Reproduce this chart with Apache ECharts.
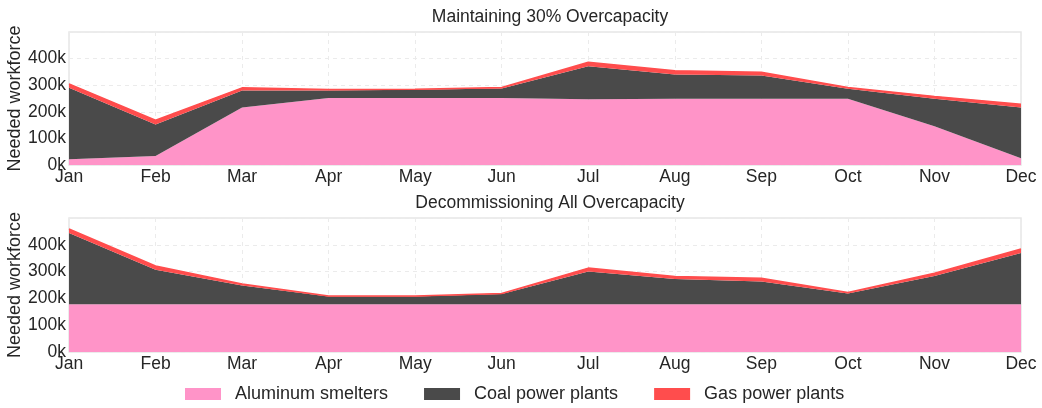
<!DOCTYPE html>
<html>
<head>
<meta charset="utf-8">
<script src="https://cdn.jsdelivr.net/npm/echarts@6/dist/echarts.min.js"></script>
<style>
  html, body { margin: 0; padding: 0; background: #fff; }
  #main { width: 1042px; height: 408px; }
</style>
</head>
<body>
<div id="main"></div>
<script>
// months on x axis
const months = ['Jan', 'Feb', 'Mar', 'Apr', 'May', 'Jun', 'Jul', 'Aug', 'Sep', 'Oct', 'Nov', 'Dec']

// Maintaining 30% Overcapacity (thousands of workers)
const keepAluminum = [22, 34, 216, 252, 252, 252, 247, 249, 249, 249, 146, 25]
const keepCoal = [268, 118, 64, 28, 31, 36, 124, 91, 87, 38, 103, 191]
const keepGas = [15, 16, 10, 4, 2, 3, 15, 14, 13, 4, 9, 12]

// Decommissioning All Overcapacity
const decomAluminum = [178, 178, 178, 178, 178, 178, 178, 178, 178, 178, 178, 178]
const decomCoal = [266, 129, 70, 29, 29, 38, 122, 94, 85, 40, 106, 191]
const decomGas = [15, 14, 6, 2, 2, 2, 13, 10, 12, 4, 10, 15]

const colors = {
  'Aluminum smelters': '#ff94c8',
  'Coal power plants': '#4a4a4a',
  'Gas power plants': '#ff4d4d'
}
const textColor = '#262626'
const fontFamily = '"Liberation Sans", Arial, sans-serif'

var chart = echarts.init(document.getElementById('main'))

function xAxisFor(idx) {
  return {
    type: 'category',
    gridIndex: idx,
    data: months,
    boundaryGap: false,
    axisLine: { show: false },
    axisTick: { show: false },
    axisLabel: { color: textColor, fontSize: 17.5, fontFamily: fontFamily, margin: 3 },
    splitLine: { show: true, lineStyle: { color: '#ebebeb', type: [4, 4], width: 1 } }
  }
}

function yAxisFor(idx) {
  return {
    type: 'value',
    gridIndex: idx,
    min: 0,
    max: 500,
    interval: 100,
    name: 'Needed workforce',
    nameLocation: 'middle',
    nameGap: 45,
    nameMoveOverlap: false,
    nameTextStyle: { color: textColor, fontSize: 18, fontFamily: fontFamily },
    axisLine: { show: false },
    axisTick: { show: false },
    axisLabel: {
      color: textColor, fontSize: 17.5, fontFamily: fontFamily, margin: 3,
      showMaxLabel: false,
      formatter: v => v + 'k'
    },
    splitLine: { show: true, lineStyle: { color: '#ebebeb', type: [4, 4], width: 1 } }
  }
}

function areaSeries(name, data, idx, stack, lineWidth) {
  return {
    name: name,
    type: 'line',
    xAxisIndex: idx,
    yAxisIndex: idx,
    stack: stack,
    data: data,
    symbol: 'none',
    smooth: false,
    lineStyle: { width: lineWidth, color: colors[name] },
    itemStyle: { color: colors[name] },
    areaStyle: { color: colors[name], opacity: 1 },
    emphasis: { disabled: true }
  }
}

var option = {
  backgroundColor: '#fff',
  animation: false,
  title: [
    {
      text: 'Maintaining 30% Overcapacity',
      left: 545, top: 3, textAlign: 'center',
      textStyle: { color: textColor, fontSize: 17.5, fontWeight: 'normal', fontFamily: fontFamily }
    },
    {
      text: 'Decommissioning All Overcapacity',
      left: 545, top: 189, textAlign: 'center',
      textStyle: { color: textColor, fontSize: 17.5, fontWeight: 'normal', fontFamily: fontFamily }
    }
  ],
  legend: {
    left: 185,
    top: 385,
    padding: 0,
    itemWidth: 36,
    itemHeight: 12,
    itemGap: 36,
    icon: 'rect',
    data: ['Aluminum smelters', 'Coal power plants', 'Gas power plants'],
    textStyle: { color: textColor, fontSize: 18, fontFamily: fontFamily, padding: [0, 0, 0, 9] }
  },
  grid: [
    { left: 69, right: 21, top: 32, height: 133, outerBoundsMode: 'none', containLabel: false, show: true, borderColor: '#e6e6e6', borderWidth: 1.5, backgroundColor: '#fff' },
    { left: 69, right: 21, top: 218, height: 134, outerBoundsMode: 'none', containLabel: false, show: true, borderColor: '#e6e6e6', borderWidth: 1.5, backgroundColor: '#fff' }
  ],
  xAxis: [xAxisFor(0), xAxisFor(1)],
  yAxis: [yAxisFor(0), yAxisFor(1)],
  series: [
    areaSeries('Aluminum smelters', keepAluminum, 0, 'keep', 0),
    areaSeries('Coal power plants', keepCoal, 0, 'keep', 0),
    areaSeries('Gas power plants', keepGas, 0, 'keep', 1.5),
    areaSeries('Aluminum smelters', decomAluminum, 1, 'decom', 0),
    areaSeries('Coal power plants', decomCoal, 1, 'decom', 0),
    areaSeries('Gas power plants', decomGas, 1, 'decom', 1.5)
  ]
}

chart.setOption(option)
</script>
</body>
</html>
